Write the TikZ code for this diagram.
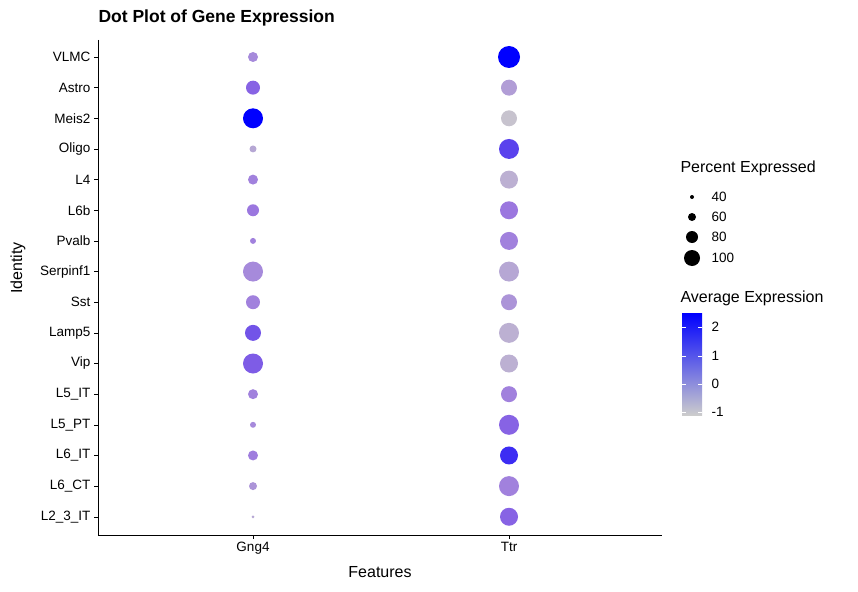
\documentclass[tikz,border=0pt]{standalone}
\usepackage{fontspec}
\setmainfont{Liberation Sans}
\definecolor{lowgrey}{RGB}{204,204,204}
\definecolor{midpurple}{RGB}{150,110,225}
\definecolor{highblue}{RGB}{0,0,255}
\tikzset{
  ticklabel/.style={font=\fontsize{13.5}{15}\selectfont},
  axistitle/.style={font=\fontsize{16}{18}\selectfont},
}
\newcommand{\dotcolour}[2]{% level, name
  \pgfmathtruncatemacro{\lvA}{min(100,2*#1)}%
  \pgfmathtruncatemacro{\lvB}{max(0,2*#1-100)}%
  \colorlet{lvtmp}{midpurple!\lvA!lowgrey}%
  \colorlet{#2}{highblue!\lvB!lvtmp}}
\begin{document}
\begin{tikzpicture}[x=1pt, y=-1pt]
	\useasboundingbox (0,0) rectangle (858,591);

		% axes
		\draw (98,40) coordinate (top) -- (98,535) coordinate (origin) -- (662,535) coordinate (right);
		\node[anchor=west, font=\bfseries\fontsize{17.5}{19}\selectfont] (title) at (95,18) {Dot Plot of Gene Expression};
		\node[axistitle] (xlab) at (380,572) {Features};
		\node[axistitle, rotate=90] (ylab) at (18,268) {Identity};

		% x ticks
		\foreach \x/\g in {253/Gng4, 509/Ttr}{
			\draw (\x,535) -- (\x,539);
			\node[ticklabel, below] at (\x,539) {\g};
		}

		% rows: name / Gng4 radius / Gng4 level / Ttr radius / Ttr level
		\foreach \n/\lab/\ra/\ca/\rb/\cb in {
			0/VLMC/5/35/11/100, 1/Astro/7/55/8/25, 2/Meis2/10/100/8/5,
			3/Oligo/3.5/20/10/70, 4/L4/5/40/9/15, 5/L6b/6/45/9/45,
			6/Pvalb/3/40/9/40, 7/Serpinf1/10/35/10/20, 8/Sst/7/40/8/30,
			9/Lamp5/8/62/10/15, 10/Vip/10/58/9/15, 11/L5\_IT/5/40/8/40,
			12/L5\_PT/3/35/10/55, 13/L6\_IT/5/42/9/80, 14/L6\_CT/4/30/10/40,
			15/L2\_3\_IT/1.5/20/9/55}{
			\pgfmathsetmacro{\y}{57+30.65*\n}
			\draw (94,\y) -- (98,\y);
			\node[ticklabel, left] at (94,\y) {\lab};
			\dotcolour{\ca}{gcol}
			\fill[gcol] (253,\y) circle[radius=\ra];
			\dotcolour{\cb}{tcol}
			\fill[tcol] (509,\y) circle[radius=\rb];
		}

		% size legend
		\node[axistitle, anchor=west] (sizetitle) at (677,168) {Percent Expressed};
		\foreach \y/\r/\v in {197/2/40, 217/4/60, 237/6/80, 258/8/100}{
			\fill (692,\y) circle[radius=\r];
			\node[ticklabel, anchor=west] at (708,\y) {\v};
		}

		% colour legend
		\node[axistitle, anchor=west] (coltitle) at (677,298) {Average Expression};
		\shade[bottom color=lowgrey, middle color=midpurple, top color=highblue] (682,313) rectangle (702,415);
		\foreach \y/\v in {327/2, 356/1, 384/0, 412/-1}{
			\draw[white] (682,\y) -- (686,\y) (698,\y) -- (702,\y);
			\node[ticklabel, anchor=west] at (708,\y) {\v};
		}

	\end{tikzpicture}
\end{document}
